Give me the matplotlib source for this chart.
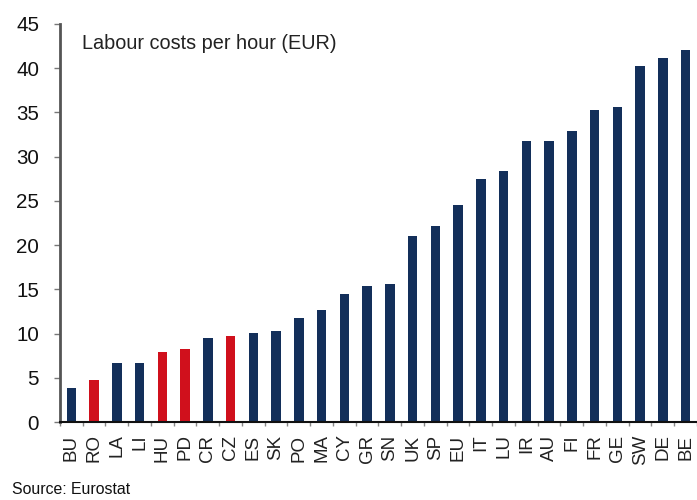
import matplotlib
matplotlib.use("Agg")
import matplotlib.pyplot as plt
from matplotlib import font_manager
import numpy as np

names = {f.name for f in font_manager.fontManager.ttflist}
narrow = 'Liberation Sans Narrow' if 'Liberation Sans Narrow' in names else None
plt.rcParams['font.family'] = ([narrow] if narrow else []) + ['Liberation Sans', 'DejaVu Sans']
scale = 1.0 if narrow else 0.82

countries = ["BU", "RO", "LA", "LI", "HU", "PD", "CR", "CZ", "ES", "SK", "PO", "MA", "CY", "GR",
             "SN", "UK", "SP", "EU", "IT", "LU", "IR", "AU", "FI", "FR", "GE", "SW", "DE", "BE"]
costs = [3.9, 4.8, 6.7, 6.7, 7.9, 8.3, 9.5, 9.7, 10.1, 10.3, 11.8, 12.7, 14.5, 15.4,
         15.6, 21.0, 22.2, 24.5, 27.5, 28.4, 31.8, 31.8, 32.9, 35.3, 35.6, 40.2, 41.2, 42.1]
highlight = ["RO", "HU", "PD", "CZ"]

navy = "#132f5a"
red = "#d0101c"
colors = [red if c in highlight else navy for c in countries]

fig = plt.figure(figsize=(6.97, 5.0), dpi=100)
ax = fig.add_axes([0.086, 0.156, 0.914, 0.796])
x = np.arange(len(countries))
ax.bar(x, costs, width=0.42, color=colors, zorder=2)

ax.set_xlim(-0.5, len(countries) - 0.5)
ax.set_ylim(0, 45)
ax.set_yticks(np.arange(0, 46, 5))
ax.tick_params(axis='y', direction='out', length=4, width=1, color='#777777',
               labelsize=18 * scale, pad=11, labelcolor='#111111')
ax.set_xticks(x)
ax.set_xticklabels(countries, rotation=90, fontsize=16.5 * scale, color='#222222')
ax.tick_params(axis='x', which='major', length=0, pad=9)
ax.set_xticks(np.arange(-0.5, len(countries), 1), minor=True)
ax.tick_params(axis='x', which='minor', direction='out', length=3, width=1, color='#888888')

for s in ['top', 'right']:
    ax.spines[s].set_visible(False)
ax.spines['left'].set_color('#555555')
ax.spines['left'].set_linewidth(2)
ax.spines['bottom'].set_color('#111111')
ax.spines['bottom'].set_linewidth(1.5)

ax.text(0.035, 0.975, "Labour costs per hour (EUR)", transform=ax.transAxes,
        fontsize=17.5 * scale, color='#222222', va='top', ha='left')
fig.text(0.017, 0.006, "Source: Eurostat", fontsize=14 * scale, color='#111111', ha='left', va='bottom')

fig.savefig("out.png", dpi=100)
